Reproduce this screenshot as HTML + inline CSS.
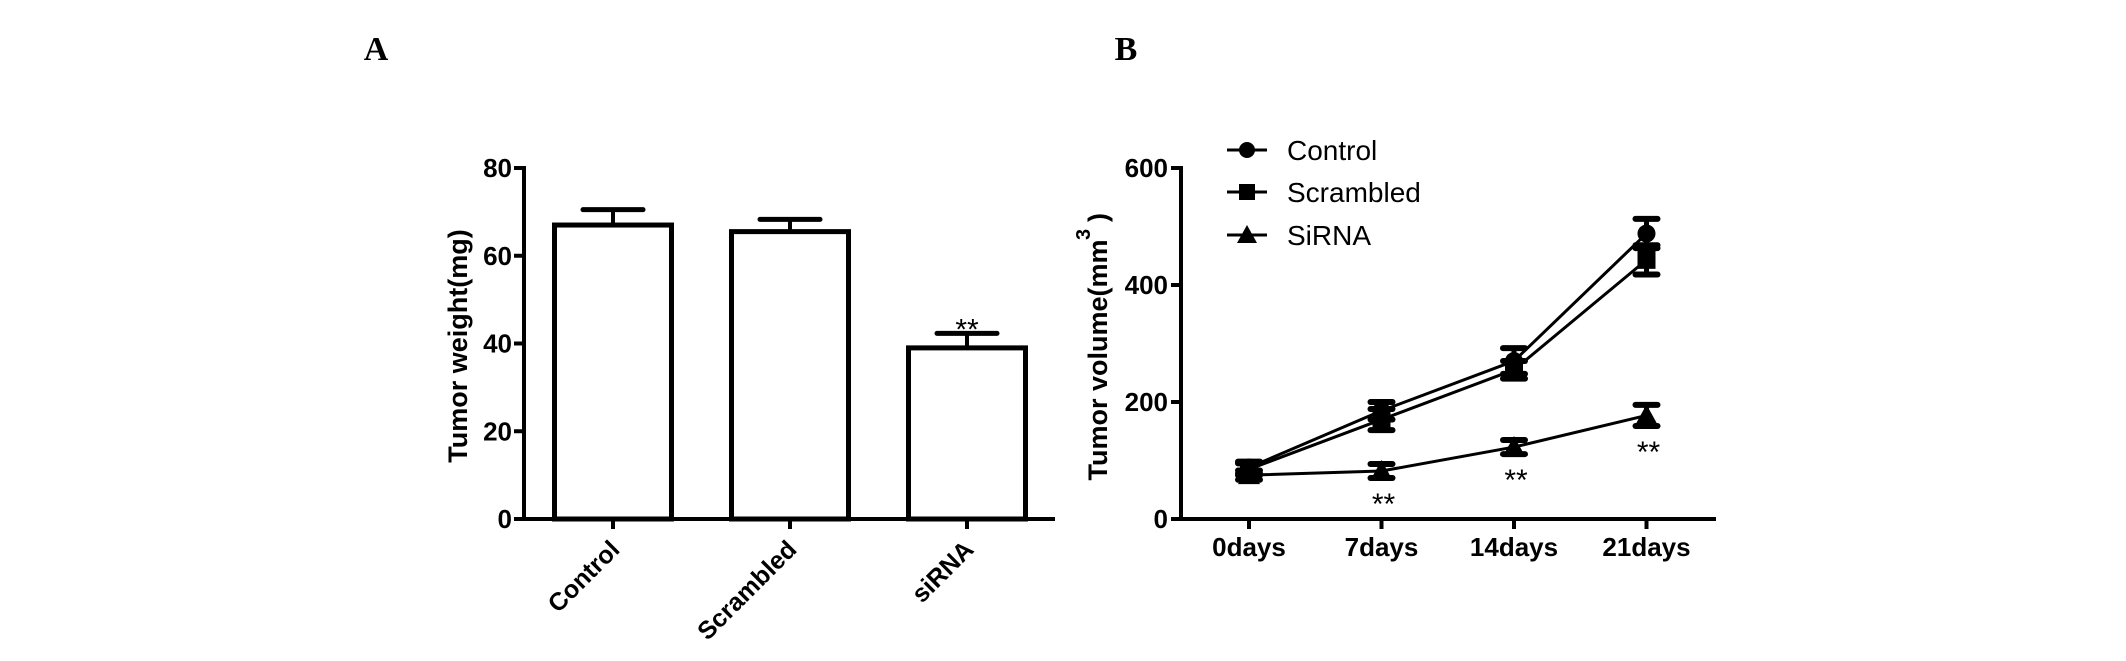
<!DOCTYPE html>
<html><head><meta charset="utf-8"><style>
body{margin:0;background:#fff}
svg{display:block;font-family:"Liberation Sans",Arial,sans-serif}
</style></head><body>
<svg id="fig" width="2126" height="661" viewBox="0 0 2126 661">
<text x="376" y="60" font-family="Liberation Serif,serif" font-weight="bold" font-size="34" text-anchor="middle">A</text>
<text x="1126" y="60" font-family="Liberation Serif,serif" font-weight="bold" font-size="34" text-anchor="middle">B</text>
<g id="chartA"></g>
<g id="chartB"></g>
</svg>
<script>
const barCategories = ["Control", "Scrambled", "siRNA"];
const barValues = [67, 65.5, 39];
const barErrors = [3.5, 2.8, 3.3];
const barSig = ["", "", "**"];
const barTicks = [0, 20, 40, 60, 80];

const lineCategories = ["0days", "7days", "14days", "21days"];
const seriesNames = ["Control", "Scrambled", "SiRNA"];
const controlValues = [88, 185, 270, 488];
const controlErrors = [10, 15, 22, 25];
const scrambledValues = [85, 170, 255, 443];
const scrambledErrors = [10, 18, 15, 25];
const sirnaValues = [75, 82, 123, 177];
const sirnaErrors = [8, 12, 12, 18];
const sirnaSig = ["", "**", "**", "**"];
const lineTicks = [0, 200, 400, 600];

const NS = "http://www.w3.org/2000/svg";
function mk(parent, tag, attrs, text){
  const e = document.createElementNS(NS, tag);
  for (const k in attrs) e.setAttribute(k, attrs[k]);
  if (text !== undefined) e.textContent = text;
  parent.appendChild(e);
  return e;
}

// Chart A
const A = document.getElementById("chartA");
const ax0 = 524, axEnd = 1055, ay0 = 519, ayTop = 168;
const yA = v => ay0 - (v / 80) * (ay0 - ayTop);
const xA = i => 613 + i * 177;
let e;
e = mk(A, "line", {x1: ax0, y1: ayTop - 2, x2: ax0, y2: ay0 + 2, stroke: "#000", "stroke-width": 4});


e = mk(A, "line", {x1: ax0 - 10, y1: ay0, x2: axEnd, y2: ay0, stroke: "#000", "stroke-width": 4});


barTicks.forEach(t => {
  const y = yA(t);
  mk(A, "line", {x1: ax0 - 10, y1: y, x2: ax0, y2: y, stroke: "#000", "stroke-width": 4});
  e = mk(A, "text", {x: ax0 - 12, y: y + 9, "text-anchor": "end", "font-size": 26, "font-weight": "bold"}, t);
  
  
});
barCategories.forEach((c, i) => {
  const cx = xA(i), w = 117, top = yA(barValues[i]);
  const et = yA(barValues[i] + barErrors[i]);
  mk(A, "line", {x1: cx, y1: et, x2: cx, y2: top, stroke: "#000", "stroke-width": 4});
  mk(A, "line", {x1: cx - 30, y1: et, x2: cx + 30, y2: et, stroke: "#000", "stroke-width": 5, "stroke-linecap": "round"});
  e = mk(A, "rect", {x: cx - w / 2, y: top, width: w, height: ay0 - top, fill: "#fff", stroke: "#000", "stroke-width": 5});
  
  
  mk(A, "line", {x1: cx, y1: ay0, x2: cx, y2: ay0 + 10, stroke: "#000", "stroke-width": 4});
  if (barSig[i]) {
    e = mk(A, "text", {x: cx, y: et + 6, "text-anchor": "middle", "font-size": 30}, barSig[i]);
    
    
  }
  e = mk(A, "text", {x: cx + 8, y: ay0 + 32, "text-anchor": "end", "font-size": 25, "font-weight": "bold", transform: `rotate(-45 ${cx + 8} ${ay0 + 32})`}, c);
  
  
});
e = mk(A, "text", {x: 0, y: 0, "text-anchor": "middle", "font-size": 27, "font-weight": "bold", transform: "translate(467 346) rotate(-90)"}, "Tumor weight(mg)");



// Chart B
const B = document.getElementById("chartB");
const bx0 = 1181, bxEnd = 1716, by0 = 519, byTop = 168;
const yB = v => by0 - (v / 600) * (by0 - byTop);
const xB = i => 1249 + i * 132.5;
e = mk(B, "line", {x1: bx0, y1: byTop - 2, x2: bx0, y2: by0 + 2, stroke: "#000", "stroke-width": 4});


e = mk(B, "line", {x1: bx0 - 10, y1: by0, x2: bxEnd, y2: by0, stroke: "#000", "stroke-width": 4});


lineTicks.forEach(t => {
  const y = yB(t);
  mk(B, "line", {x1: bx0 - 10, y1: y, x2: bx0, y2: y, stroke: "#000", "stroke-width": 4});
  e = mk(B, "text", {x: bx0 - 13, y: y + 9, "text-anchor": "end", "font-size": 26, "font-weight": "bold"}, t);
  
  
});
lineCategories.forEach((c, i) => {
  mk(B, "line", {x1: xB(i), y1: by0, x2: xB(i), y2: by0 + 10, stroke: "#000", "stroke-width": 4});
  e = mk(B, "text", {x: xB(i), y: by0 + 37, "text-anchor": "middle", "font-size": 26, "font-weight": "bold"}, c);
  
  
});
function marker(g, type, x, y, s){
  if (type === 0) return mk(g, "circle", {cx: x, cy: y, r: s});
  if (type === 1) return mk(g, "rect", {x: x - s, y: y - s, width: 2 * s, height: 2 * s});
  return mk(g, "polygon", {points: `${x},${y - s - 2} ${x - s - 2},${y + s} ${x + s + 2},${y + s}`});
}
const allVals = [controlValues, scrambledValues, sirnaValues];
const allErrs = [controlErrors, scrambledErrors, sirnaErrors];
allVals.forEach((vals, si) => {
  const g = mk(B, "g", {});
  
  
  const pts = vals.map((v, i) => xB(i) + "," + yB(v)).join(" ");
  mk(g, "polyline", {points: pts, fill: "none", stroke: "#000", "stroke-width": 3});
  vals.forEach((v, i) => {
    const x = xB(i), err = allErrs[si][i];
    mk(g, "line", {x1: x, y1: yB(v + err), x2: x, y2: yB(v - err), stroke: "#000", "stroke-width": 5});
    mk(g, "line", {x1: x - 11, y1: yB(v + err), x2: x + 11, y2: yB(v + err), stroke: "#000", "stroke-width": 6, "stroke-linecap": "round"});
    mk(g, "line", {x1: x - 11, y1: yB(v - err), x2: x + 11, y2: yB(v - err), stroke: "#000", "stroke-width": 6, "stroke-linecap": "round"});
    const m = marker(g, si, x, yB(v), 9);
    
    
    if (si === 2 && sirnaSig[i]) {
      const t = mk(g, "text", {x: x + 2, y: yB(v - err) + 36, "text-anchor": "middle", "font-size": 30}, sirnaSig[i]);
      
      
    }
  });
});
e = mk(B, "text", {x: 0, y: 0, "text-anchor": "middle", "font-size": 27, "font-weight": "bold", transform: "translate(1107 360) rotate(-90)"}, "Tumor volume(mm");


e = mk(B, "text", {x: 0, y: 0, "text-anchor": "start", "font-size": 20, "font-weight": "bold", transform: "translate(1090 240) rotate(-90)"}, "3");


e = mk(B, "text", {x: 0, y: 0, "text-anchor": "start", "font-size": 27, "font-weight": "bold", transform: "translate(1107 222) rotate(-90)"}, ")");


const legY = [150, 192, 235];
seriesNames.forEach((n, si) => {
  const g = mk(B, "g", {});
  
  
  mk(g, "line", {x1: 1227, y1: legY[si], x2: 1267, y2: legY[si], stroke: "#000", "stroke-width": 3});
  marker(g, si, 1247, legY[si], 8);
  mk(g, "text", {x: 1287, y: legY[si] + 10, "font-size": 28}, n);
});
</script>
</body></html>
